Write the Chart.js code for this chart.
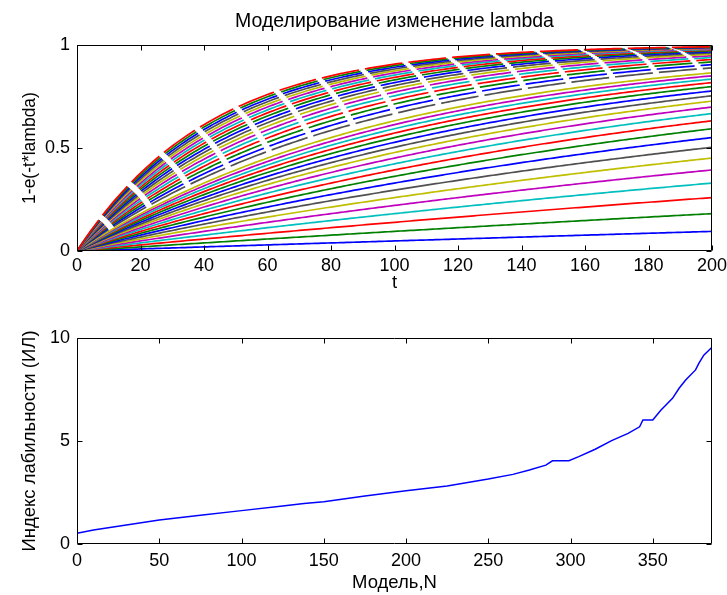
<!DOCTYPE html>
<html>
<head>
<meta charset="utf-8">
<script src="https://cdn.jsdelivr.net/npm/chart.js@4.4.0/dist/chart.umd.min.js"></script>
<style>
  html, body { margin: 0; padding: 0; background: #fff; }
  #figure { position: relative; width: 727px; height: 595px; overflow: hidden; background: #fff; }
  #figure canvas { position: absolute; left: 0; }
  #topPlot { top: 0; }
  #bottomPlot { top: 300px; }
</style>
</head>
<body>
<div id="figure">
  <canvas id="topPlot" width="727" height="300"></canvas>
  <canvas id="bottomPlot" width="727" height="295"></canvas>
</div>
<script>
// Slow decay rates, drawn as solid lines
const lambdaSolid = [
  0.0005, 0.0010, 0.0015, 0.0020, 0.0025, 0.0030, 0.0035, 0.0040, 0.0045, 0.0050,
  0.0055, 0.0060, 0.0065, 0.0070, 0.0075, 0.0080, 0.0085, 0.0090, 0.0095, 0.0100
];
// Fast decay rates, drawn as dashed lines
const lambdaDashed = [
  0.01100, 0.01175, 0.01250, 0.01325, 0.01400, 0.01475, 0.01550, 0.01625, 0.01700,
  0.01775, 0.01850, 0.01925, 0.02000, 0.02075, 0.02150, 0.02225, 0.02300, 0.02375
];

// Time axis
const tMin = 0, tMax = 200, tStep = 1;
const tTicksStep = 20;

// Lability index per model (sorted)
const modelN = [0, 10, 25, 50, 75, 100, 125, 138, 150, 175, 200, 225, 250, 265, 275, 285, 289, 299,
  305, 315, 325, 335, 342, 344, 350, 355, 358, 362, 366, 370, 376, 378, 381, 386];
const labilityIndex = [0.52, 0.68, 0.86, 1.17, 1.40, 1.62, 1.84, 1.97, 2.05, 2.33, 2.59, 2.82, 3.15, 3.38,
  3.59, 3.83, 4.04, 4.04, 4.24, 4.60, 5.02, 5.37, 5.69, 6.02, 6.02, 6.50, 6.75, 7.07, 7.56, 7.96, 8.45,
  8.77, 9.17, 9.55];

// MATLAB-style colour order
const colorOrder = ['#0000ff', '#008000', '#ff0000', '#00bfbf', '#bf00bf', '#bfbf00', '#505050'];

const FONT = 'Liberation Sans, Arial, Helvetica, sans-serif';
const tickFont = { family: FONT, size: 18 };
const labelFont = { family: FONT, size: 18.5 };
const plainNumber = v => String(v);

// Axes box with inward tick marks on all four sides
const axesBox = {
  id: 'axesBox',
  afterDraw(chart) {
    const { ctx, chartArea: a, scales } = chart;
    const L = Math.round(a.left) + 0.5, R = Math.round(a.right) - 0.5;
    const T = Math.round(a.top) + 0.5, B = Math.round(a.bottom) - 0.5;
    const len = 5;
    ctx.save();
    ctx.strokeStyle = '#000';
    ctx.lineWidth = 1;
    ctx.beginPath();
    ctx.rect(L, T, R - L, B - T);
    scales.x.ticks.forEach(t => {
      const px = Math.round(scales.x.getPixelForValue(t.value)) + 0.5;
      ctx.moveTo(px, B); ctx.lineTo(px, B - len);
      ctx.moveTo(px, T); ctx.lineTo(px, T + len);
    });
    scales.y.ticks.forEach(t => {
      const py = Math.round(scales.y.getPixelForValue(t.value)) + 0.5;
      ctx.moveTo(L, py); ctx.lineTo(L + len, py);
      ctx.moveTo(R, py); ctx.lineTo(R - len, py);
    });
    ctx.stroke();
    ctx.restore();
  }
};

function fixedAxis(size, isX) {
  return function (scale) {
    if (isX) { scale.height = size; scale.paddingLeft = 0; scale.paddingRight = 0; }
    else { scale.width = size; scale.paddingTop = 0; scale.paddingBottom = 0; }
  };
}

// ---- Top plot: 1 - exp(-t*lambda) for each rate ----
const tGrid = [];
for (let t = tMin; t <= tMax; t += tStep) tGrid.push(t);

const allRates = lambdaSolid.map(l => ({ lam: l, dashed: false }))
  .concat(lambdaDashed.map(l => ({ lam: l, dashed: true })));

const curveSets = allRates.map((r, i) => ({
  data: tGrid.map(t => ({ x: t, y: 1 - Math.exp(-t * r.lam) })),
  borderColor: colorOrder[i % colorOrder.length],
  borderWidth: 1.7,
  borderDash: r.dashed ? [38, 6] : [],
  pointRadius: 0,
  fill: false,
  tension: 0,
  order: allRates.length - i
}));

new Chart(document.getElementById('topPlot'), {
  type: 'line',
  data: { datasets: curveSets },
  options: {
    responsive: false,
    animation: false,
    events: [],
    parsing: false,
    layout: { padding: { left: 0, right: 15, top: 0, bottom: 0 } },
    plugins: { legend: { display: false }, tooltip: { enabled: false } },
    scales: {
      x: {
        type: 'linear', min: tMin, max: tMax,
        ticks: { stepSize: tTicksStep, color: '#000', font: tickFont, padding: 4, maxRotation: 0, autoSkip: false, includeBounds: false, callback: plainNumber },
        grid: { display: false, drawTicks: false },
        border: { display: false },
        title: { display: true, text: 't', color: '#000', font: labelFont, padding: { top: 0, bottom: 5.9 } },
        afterFit: fixedAxis(49, true)
      },
      // top axis carries the plot title, centred over the axes
      xTop: {
        type: 'linear', position: 'top', min: tMin, max: tMax,
        ticks: { display: false },
        grid: { display: false, drawTicks: false },
        border: { display: false },
        title: { display: true, text: 'Моделирование изменение lambda', color: '#000', font: { family: FONT, size: 19.5 }, padding: { top: 10.3, bottom: 0 } },
        afterFit: fixedAxis(45, true)
      },
      y: {
        type: 'linear', min: 0, max: 1,
        ticks: { stepSize: 0.5, color: '#000', font: tickFont, padding: 7, autoSkip: false, callback: plainNumber },
        grid: { display: false, drawTicks: false },
        border: { display: false },
        title: { display: true, text: '1-e(-t*lambda)', color: '#000', font: { family: FONT, size: 17.5 }, padding: { top: 19.5, bottom: 0 } },
        afterFit: fixedAxis(77, false)
      }
    }
  },
  plugins: [axesBox]
});

// ---- Bottom plot: lability index by model ----
new Chart(document.getElementById('bottomPlot'), {
  type: 'line',
  data: {
    datasets: [{
      data: modelN.map((n, i) => ({ x: n, y: labilityIndex[i] })),
      borderColor: '#0000ff',
      borderWidth: 1.5,
      pointRadius: 0,
      fill: false,
      tension: 0
    }]
  },
  options: {
    responsive: false,
    animation: false,
    events: [],
    parsing: false,
    layout: { padding: { left: 0, right: 15, top: 38, bottom: 0 } },
    plugins: { legend: { display: false }, tooltip: { enabled: false } },
    scales: {
      x: {
        type: 'linear', min: 0, max: 386,
        ticks: { stepSize: 50, color: '#000', font: tickFont, padding: 6, maxRotation: 0, autoSkip: false, includeBounds: false, callback: plainNumber },
        grid: { display: false, drawTicks: false },
        border: { display: false },
        title: { display: true, text: 'Модель,N', color: '#000', font: labelFont, padding: { top: 0, bottom: 0.8 } },
        afterFit: fixedAxis(51, true)
      },
      y: {
        type: 'linear', min: 0, max: 10,
        ticks: { stepSize: 5, color: '#000', font: tickFont, padding: 7, autoSkip: false, callback: plainNumber },
        grid: { display: false, drawTicks: false },
        border: { display: false },
        title: { display: true, text: 'Индекс лабильности (ИЛ)', color: '#000', font: labelFont, padding: { top: 18.9, bottom: 0 } },
        afterFit: fixedAxis(77, false)
      }
    }
  },
  plugins: [axesBox]
});
</script>
</body>
</html>
